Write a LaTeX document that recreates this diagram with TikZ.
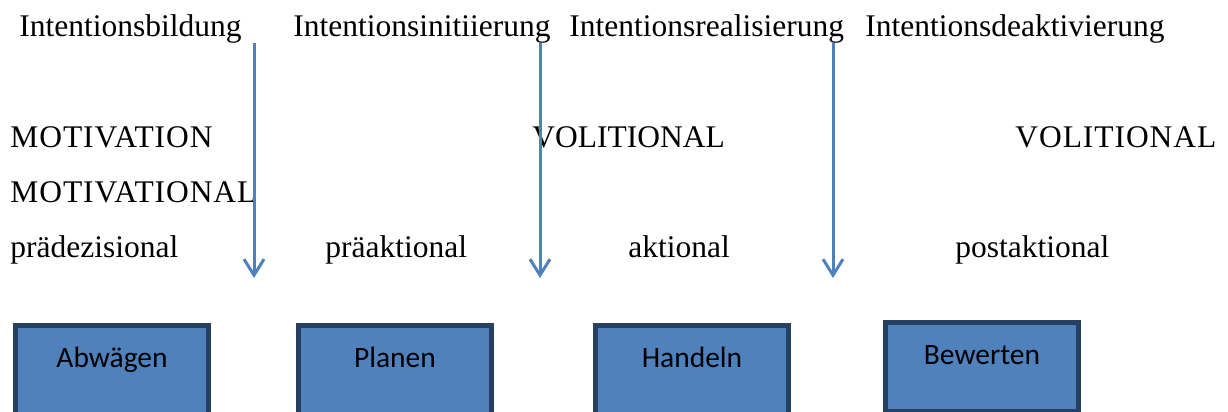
\documentclass[tikz,border=0pt]{standalone}
\usepackage{fontspec}
\setmainfont{Liberation Serif}
\newfontfamily\boxfont{Carlito}
\usetikzlibrary{arrows.meta}
\definecolor{stageblue}{RGB}{79,129,189}
\definecolor{stageedge}{RGB}{38,64,97}
\begin{document}
\begin{tikzpicture}[x=0.5pt,y=-0.5pt,every node/.style={font=\fontsize{15.75}{19}\selectfont,inner sep=0pt,anchor=base west},
  spaced/.style={font=\fontsize{15.75}{19}\selectfont\addfontfeature{LetterSpace=3}},
  stage/.style={draw=stageedge,line width=2.5pt,fill=stageblue,anchor=north west,outer sep=0pt,minimum width=96.5pt,text height=20.75pt,text depth=23.5pt,font=\boxfont\fontsize{14.75}{18}\selectfont},
  pfeil/.style={draw=stageblue,line width=1.5pt,-{Straight Barb[length=8pt,width=10pt]}}]
% Rubikon-Modell: Phasen, Uebergaenge und Handlungsschritte
\useasboundingbox (0,0) rectangle (1228,412);
\clip (0,0) rectangle (1228,412);
\node (bildung) at (19,36) {Intentionsbildung};
\node (initiierung) at (293,36) {Intentionsinitiierung};
\node (realisierung) at (569,36) {Intentionsrealisierung};
\node (deaktivierung) at (865,36) {Intentionsdeaktivierung};
\node[spaced] (mot) at (10,147) {MOTIVATION};
\node (vol1) at (532,147) {VOLITIONAL};
\node[spaced] (vol2) at (1015,147) {VOLITIONAL};
\node[spaced] (motal) at (10,202) {MOTIVATIONAL};
\node (praedez) at (10,257) {prädezisional};
\node (praeakt) at (325,257) {präaktional};
\node (akt) at (628,257) {aktional};
\node (postakt) at (955,257) {postaktional};
\coordinate (b1o) at (254,43); \coordinate (b1u) at (254,278);
\coordinate (b2o) at (540,43); \coordinate (b2u) at (540,278);
\coordinate (b3o) at (833,43); \coordinate (b3u) at (833,278);
\draw[pfeil] (b1o)--(b1u); \draw[pfeil] (b2o)--(b2u); \draw[pfeil] (b3o)--(b3u);
\node[stage] (abwaegen) at (15.5,325.5) {Abwägen};
\node[stage] (planen) at (298.5,325.5) {Planen};
\node[stage] (handeln) at (595.5,325.5) {Handeln};
\node[stage] (bewerten) at (885.5,322.5) {Bewerten};
\end{tikzpicture}
\end{document}
